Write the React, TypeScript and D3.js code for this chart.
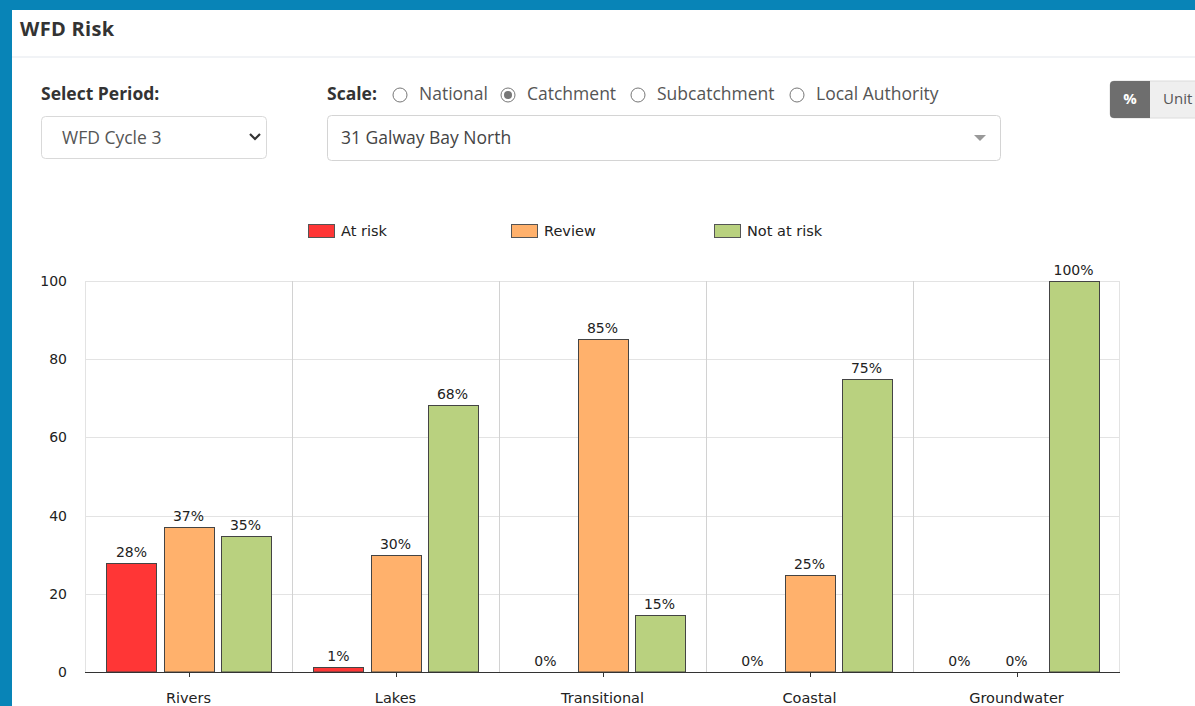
import React from 'react';
import { scaleBand, scaleLinear, scalePoint } from 'd3';

const categories = ['Rivers', 'Lakes', 'Transitional', 'Coastal', 'Groundwater'];
const seriesNames = ['At risk', 'Review', 'Not at risk'];
const seriesColors = ['#ff3636', '#ffb16c', '#b9d17f'];
const atRisk = [27.9, 1.3, 0, 0, 0];
const review = [37.1, 29.9, 85.2, 24.8, 0];
const notAtRisk = [34.8, 68.4, 14.6, 74.9, 100];
const yTicks = [0, 20, 40, 60, 80, 100];
const scaleOptions = ['National', 'Catchment', 'Subcatchment', 'Local Authority'];
const selectedScale = 'Catchment';

const chartFont = '"DejaVu Sans", sans-serif';
const uiFont = '"Open Sans", "Noto Sans", sans-serif';

export default function App() {
  const W = 1195;
  const H = 706;
  const series = [atRisk, review, notAtRisk];

  const x = scaleBand().domain(categories).range([85, 1120]).padding(0);
  const xInner = scaleBand()
    .domain(seriesNames)
    .range([0, x.bandwidth()])
    .paddingInner(0.123)
    .paddingOuter(0.377);
  const y = scaleLinear().domain([0, 100]).range([672, 281]);
  const legendX = scalePoint().domain(seriesNames).range([308, 714]);

  // radio positions in the Scale row
  const radioX = [400, 508, 638, 797];

  return (
    <div style={{ position: 'fixed', left: 0, top: 0, width: W, height: H, overflow: 'hidden' }}>
      <svg width={W} height={H} style={{ display: 'block' }}>
        {/* frame */}
        <rect x={0} y={0} width={W} height={H} fill="#0884b7" />
        <rect x={12} y={10} width={W - 12} height={H - 10} fill="#ffffff" />
        <text x={20} y={36} fontFamily={uiFont} fontWeight={700} fontSize={20} letterSpacing={0.3} fill="#333">WFD Risk</text>
        <rect x={12} y={56} width={W - 12} height={2} fill="#f1f3f6" />

        {/* period select */}
        <text x={41} y={100} fontFamily={uiFont} fontWeight={700} fontSize={17.5} fill="#333">Select Period:</text>
        <rect x={41.5} y={116.5} width={225} height={42} rx={4} fill="#fff" stroke="#d9d9d9" />
        <text x={62} y={144} fontFamily={uiFont} fontSize={17.5} fill="#555">WFD Cycle 3</text>
        <path d="M250,134 L255,139 L260,134" fill="none" stroke="#333" strokeWidth={2.2} />

        {/* scale radios */}
        <text x={327} y={100} fontFamily={uiFont} fontWeight={700} fontSize={17.5} fill="#333">Scale:</text>
        {scaleOptions.map((s, i) => (
          <g key={s}>
            <circle cx={radioX[i]} cy={95} r={7} fill="#fff" stroke="#777" strokeWidth={1} />
            {s === selectedScale && <circle cx={radioX[i]} cy={95} r={4} fill="#777" />}
            <text x={radioX[i] + 19} y={100} fontFamily={uiFont} fontSize={17.5} fill="#555">{s}</text>
          </g>
        ))}
        <rect x={327.5} y={115.5} width={673} height={45} rx={4} fill="#fff" stroke="#d4d4d4" />
        <text x={341} y={144} fontFamily={uiFont} fontSize={17.5} fill="#444">31 Galway Bay North</text>
        <path d="M974,135 L986,135 L980,141 Z" fill="#999" />

        {/* % / Unit toggle */}
        <rect x={1110} y={81} width={100} height={37} rx={4} fill="#efefef" stroke="#dcdcdc" />
        <path d="M1150,81 L1114,81 Q1110,81 1110,85 L1110,114 Q1110,118 1114,118 L1150,118 Z" fill="#6e6e6e" />
        <text x={1130} y={104} textAnchor="middle" fontFamily={uiFont} fontWeight={700} fontSize={15} fill="#fff">%</text>
        <text x={1163} y={104} fontFamily={uiFont} fontSize={15} fill="#555">Unit</text>

        {/* legend */}
        {seriesNames.map((n, i) => (
          <g key={n} transform={`translate(${legendX(n)},224)`}>
            <rect x={0.5} y={0.5} width={26} height={13} fill={seriesColors[i]} stroke="#555" />
            <text x={33} y={12} fontFamily={chartFont} fontSize={14.5} fill="#222">{n}</text>
          </g>
        ))}

        {/* plot frame + grid */}
        <rect x={85.5} y={281.5} width={1034} height={391} fill="none" stroke="#e3e3e3" />
        {yTicks.map(t => (
          <g key={t}>
            <line x1={85} x2={1120} y1={Math.round(y(t)) + 0.5} y2={Math.round(y(t)) + 0.5} stroke="#e3e3e3" />
            <text x={67} y={y(t) + 5} textAnchor="end" fontFamily={chartFont} fontSize={14} fill="#222">{t}</text>
          </g>
        ))}
        {categories.slice(1).map(c => (
          <line key={c} x1={Math.round(x(c)!) + 0.5} x2={Math.round(x(c)!) + 0.5} y1={281} y2={672} stroke="#d2d2d2" />
        ))}

        {/* bars */}
        {categories.map((c, ci) => (
          <g key={c} transform={`translate(${x(c)},0)`}>
            {series.map((vals, si) => {
              const v = vals[ci];
              const bx = xInner(seriesNames[si])!;
              const bw = xInner.bandwidth();
              return (
                <g key={si}>
                  {v > 0 && (
                    <rect x={Math.round(bx) + 0.5} y={Math.round(y(v)) + 0.5} width={bw} height={Math.max(0, y(0) - Math.round(y(v)) - 0.5)}
                      fill={seriesColors[si]} stroke="#444" strokeWidth={1} />
                  )}
                  <text x={bx + bw / 2} y={y(v) - 6} textAnchor="middle" fontFamily={chartFont} fontSize={14} fill="#222">
                    {Math.round(v)}%
                  </text>
                </g>
              );
            })}
          </g>
        ))}

        {/* x axis */}
        <line x1={85} x2={1120} y1={672.5} y2={672.5} stroke="#333" />
        {categories.map(c => (
          <g key={c}>
            <line x1={Math.round(x(c)! + x.bandwidth() / 2) + 0.5} x2={Math.round(x(c)! + x.bandwidth() / 2) + 0.5} y1={672} y2={677} stroke="#333" />
            <text x={x(c)! + x.bandwidth() / 2} y={703} textAnchor="middle" fontFamily={chartFont} fontSize={14.5} fill="#222">{c}</text>
          </g>
        ))}
      </svg>
    </div>
  );
}
